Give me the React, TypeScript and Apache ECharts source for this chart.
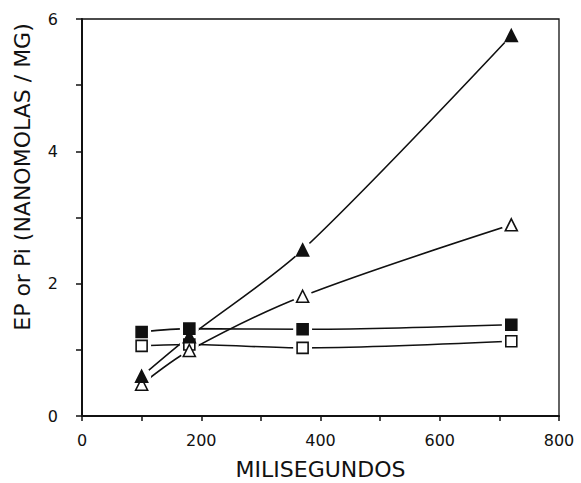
import React, { useEffect, useRef } from "react";
import * as echarts from "echarts";

const xValues = [100, 180, 370, 720];
const epFilled = [0.6, 1.2, 2.51, 5.75];
const epOpen = [0.48, 0.99, 1.81, 2.89];
const piFilled = [1.27, 1.32, 1.31, 1.38];
const piOpen = [1.06, 1.08, 1.03, 1.13];

const xTitle = "MILISEGUNDOS";
const yTitle = "EP or Pi (NANOMOLAS / MG)";

const FONT = "DejaVu Sans";
const INK = "#111";

const pairs = (ys: number[]) => xValues.map((x, i) => [x, ys[i]]);

export default function App() {
  const ref = useRef<HTMLDivElement>(null);
  useEffect(() => {
    if (!ref.current) return;
    const chart = echarts.init(ref.current, null, { renderer: "svg" });
    const lineSeries = (ys: number[]) => ({
      type: "line",
      data: pairs(ys),
      smooth: 0.3,
      showSymbol: false,
      lineStyle: { color: INK, width: 1.6 },
      z: 2,
    });
    const haloSeries = (ys: number[]) => ({
      type: "scatter",
      data: pairs(ys),
      symbol: "circle",
      symbolSize: 19,
      itemStyle: { color: "#fff", opacity: 1 },
      z: 3,
      silent: true,
    });
    const markSeries = (ys: number[], symbol: string, filled: boolean, size: number) => ({
      type: "scatter",
      data: pairs(ys),
      symbol,
      symbolSize: size,
      itemStyle: {
        color: filled ? INK : "#fff",
        borderColor: INK,
        borderWidth: 1.6,
        opacity: 1,
      },
      z: 5,
    });
    chart.setOption({
      animation: false,
      backgroundColor: "#fff",
      grid: {
        left: 82,
        right: 22,
        top: 19,
        bottom: 67,
        show: true,
        borderColor: INK,
        borderWidth: 1.3,
        containLabel: false,
        outerBoundsMode: "none",
      },
      xAxis: {
        type: "value",
        min: 0,
        max: 800,
        interval: 100,
        axisLine: { show: true, lineStyle: { color: INK, width: 2 } },
        axisTick: { show: true, length: 5, inside: false, lineStyle: { color: INK, width: 1.5 } },
        splitLine: { show: false },
        axisLabel: {
          margin: 16,
          color: INK,
          fontFamily: FONT,
          fontSize: 16,
          formatter: (v: number) => (v % 200 === 0 ? String(v) : ""),
        },
        name: xTitle,
        nameLocation: "middle",
        nameGap: 42,
        nameTextStyle: { fontFamily: FONT, fontSize: 22, color: INK },
      },
      yAxis: {
        type: "value",
        min: 0,
        max: 6,
        interval: 1,
        axisLine: { show: true, lineStyle: { color: INK, width: 2 } },
        axisTick: { show: true, length: 6, inside: false, lineStyle: { color: INK, width: 1.5 } },
        splitLine: { show: false },
        axisLabel: {
          margin: 24,
          color: INK,
          fontFamily: FONT,
          fontSize: 16,
          formatter: (v: number) => (v % 2 === 0 ? String(v) : ""),
        },
      },
      graphic: [
        {
          type: "text",
          x: 22,
          y: 177,
          rotation: Math.PI / 2,
          style: {
            text: yTitle,
            fill: INK,
            font: `22px "${FONT}"`,
            align: "center",
            verticalAlign: "middle",
          },
        },
      ],
      series: [
        lineSeries(epFilled),
        lineSeries(epOpen),
        lineSeries(piFilled),
        lineSeries(piOpen),
        haloSeries(piOpen),
        haloSeries(epOpen),
        haloSeries(piFilled),
        haloSeries(epFilled),
        markSeries(piOpen, "rect", false, 11),
        markSeries(epOpen, "triangle", false, 12),
        markSeries(piFilled, "rect", true, 11),
        markSeries(epFilled, "triangle", true, 12),
      ],
    });
    return () => chart.dispose();
  }, []);
  return (
    <div
      ref={ref}
      style={{ position: "fixed", left: 0, top: 0, width: 581, height: 483, background: "#fff" }}
    />
  );
}
